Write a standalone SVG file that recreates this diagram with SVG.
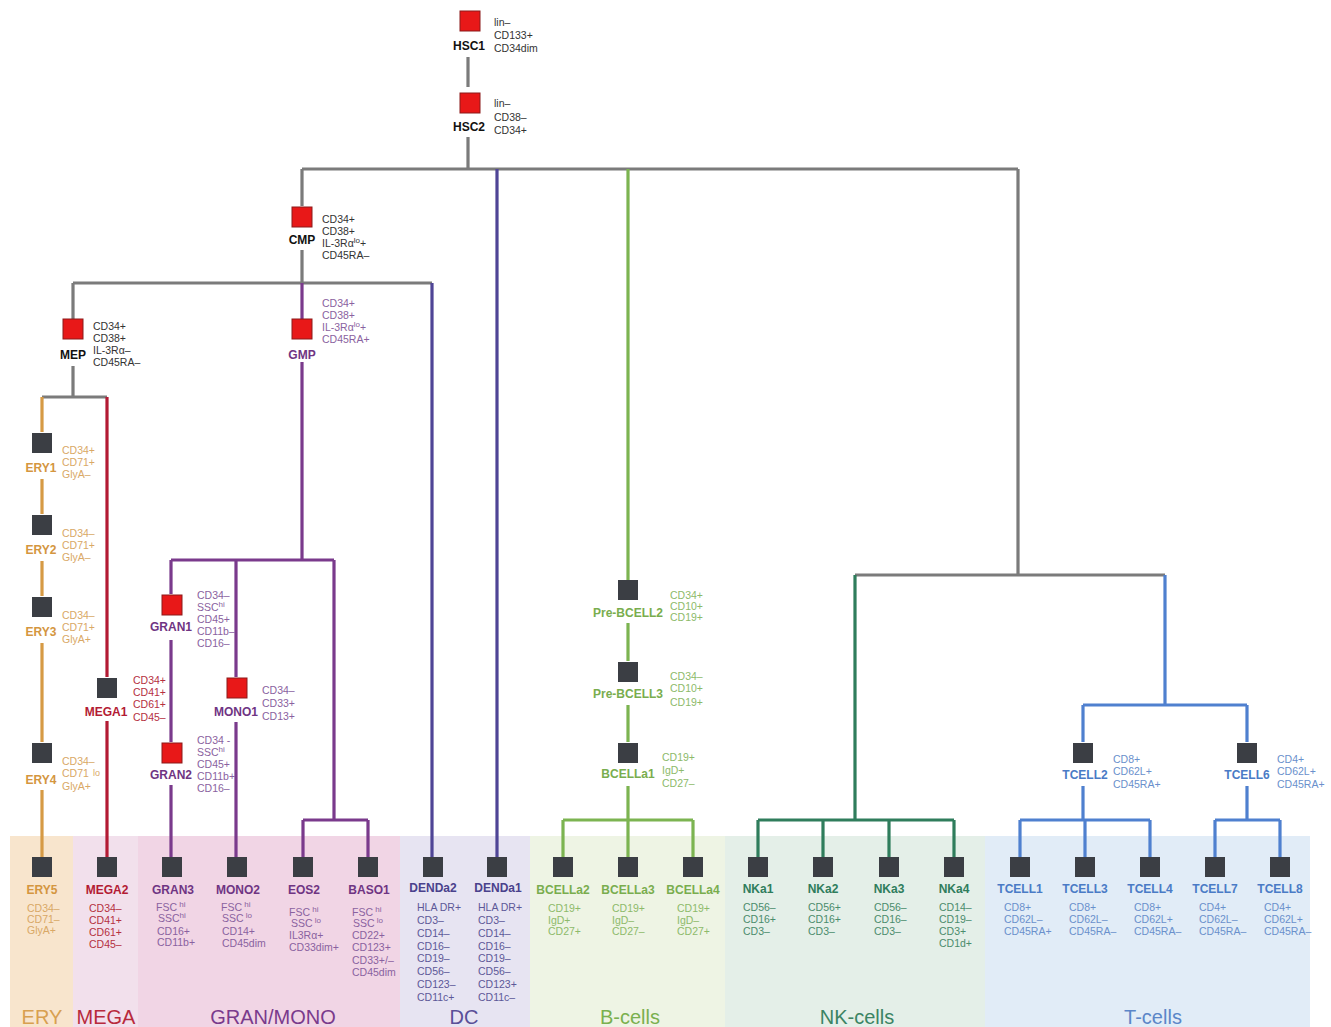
<svg xmlns="http://www.w3.org/2000/svg" width="1331" height="1027" viewBox="0 0 1331 1027">
<style>
text{font-family:"Liberation Sans",Arial,sans-serif}
.lb{font-weight:bold;font-size:12px;text-anchor:middle}
.s{font-size:10.5px}
.cat{font-size:20px;text-anchor:middle}
.sup{font-size:8px}
.rd{fill:#e81818;stroke:#8b1a1a;stroke-width:1}
.dk{fill:#3b3e44}
.c path{fill:none;stroke-width:3.2}
.gy{stroke:#7b7b7b}
.or{stroke:#d69a45}
.re{stroke:#b31b34}
.pu{stroke:#7a3a8c}
.dc{stroke:#4f4596}
.gr{stroke:#7cb451}
.nk{stroke:#2f7d5c}
.tc{stroke:#4f80cf}
.k{fill:#111}
.ks{fill:#333}
.tor{fill:#d49640}
.tors{fill:#d9a866}
.tre{fill:#b31b34}
.tres{fill:#b5303f}
.tpu{fill:#6f3483}
.tpus{fill:#8a62a0}
.tdc{fill:#4a418c}
.tdcs{fill:#5d5898}
.tgr{fill:#79ad4e}
.tgrs{fill:#8dba6a}
.tnk{fill:#2f7d5c}
.tnks{fill:#4b8c6c}
.ttc{fill:#4a7bc6}
.ttcs{fill:#6a90cc}
</style>

<g id="bands">
<rect x="10" y="836" width="63" height="191" fill="#f8e5cd"/>
<rect x="73" y="836" width="65" height="191" fill="#f2e0ec"/>
<rect x="138" y="836" width="262" height="191" fill="#f1d5e5"/>
<rect x="400" y="836" width="130" height="191" fill="#e7e4f2"/>
<rect x="530" y="836" width="195" height="191" fill="#eef4e4"/>
<rect x="725" y="836" width="260" height="191" fill="#e4efe8"/>
<rect x="985" y="836" width="325" height="191" fill="#e1ecf7"/>
<text class="cat" x="42" y="1024" fill="#d8a050">ERY</text>
<text class="cat" x="106" y="1024" fill="#b82a3c">MEGA</text>
<text class="cat" x="273" y="1024" fill="#7a3a8c">GRAN/MONO</text>
<text class="cat" x="464" y="1024" fill="#5a4f98">DC</text>
<text class="cat" x="630" y="1024" fill="#7ab04f">B-cells</text>
<text class="cat" x="857" y="1024" fill="#3b8463">NK-cells</text>
<text class="cat" x="1153" y="1024" fill="#5b86c8">T-cells</text>
</g>

<g id="connectors" class="c">
<path class="gy" d="M468,57V87M468,137V169M302,169H1018M302,169V206M1018,169V575M855,575H1165M302,250V283M73,283H432M73,283V319M73,366V397M42,397H107"/>
<path class="or" d="M42,397V432M42,479V514M42,561V596M42,643V742M42,790V857"/>
<path class="re" d="M107,397V677M107,721V857"/>
<path class="pu" d="M302,283V319M302,362V560M171,560H334M171,560V594M236,560V677M334,560V820M171,640V742M171,785V857M236,722V857M303,820H368M303,820V857M368,820V857"/>
<path class="dc" d="M432,283V857M497,169V857"/>
<path class="gr" d="M628,169V580M628,623V661M628,705V742M628,786V820M563,820H693M563,820V857M628,820V857M693,820V857"/>
<path class="nk" d="M855,575V820M758,820H954M758,820V857M823,820V857M889,820V857M954,820V857"/>
<path class="tc" d="M1165,575V705M1083,705H1247M1083,705V742M1247,705V742M1083,786V820M1020,820H1150M1020,820V857M1085,820V857M1150,820V857M1247,786V820M1215,820H1280M1215,820V857M1280,820V857"/>
</g>

<g id="HSC1">
<rect class="rd" x="460" y="11" width="20" height="20"/>
<text class="lb k" x="469" y="50">HSC1</text>
<text class="s ks" x="494" y="26">lin–</text>
<text class="s ks" x="494" y="39">CD133+</text>
<text class="s ks" x="494" y="52">CD34dim</text>
</g>
<g id="HSC2">
<rect class="rd" x="460" y="93" width="20" height="20"/>
<text class="lb k" x="469" y="131">HSC2</text>
<text class="s ks" x="494" y="107">lin–</text>
<text class="s ks" x="494" y="121">CD38–</text>
<text class="s ks" x="494" y="134">CD34+</text>
</g>
<g id="CMP">
<rect class="rd" x="292" y="207" width="20" height="20"/>
<text class="lb k" x="302" y="244">CMP</text>
<text class="s ks" x="322" y="223">CD34+</text>
<text class="s ks" x="322" y="235">CD38+</text>
<text class="s ks" x="322" y="247">IL-3Rα<tspan class="sup" dy="-4">lo</tspan><tspan dy="4">+</tspan></text>
<text class="s ks" x="322" y="259">CD45RA–</text>
</g>
<g id="MEP">
<rect class="rd" x="63" y="319" width="20" height="20"/>
<text class="lb k" x="73" y="359">MEP</text>
<text class="s ks" x="93" y="330">CD34+</text>
<text class="s ks" x="93" y="342">CD38+</text>
<text class="s ks" x="93" y="354">IL-3Rα–</text>
<text class="s ks" x="93" y="366">CD45RA–</text>
</g>
<g id="GMP">
<rect class="rd" x="292" y="319" width="20" height="20"/>
<text class="lb tpu" x="302" y="359">GMP</text>
<text class="s tpus" x="322" y="307">CD34+</text>
<text class="s tpus" x="322" y="319">CD38+</text>
<text class="s tpus" x="322" y="331">IL-3Rα<tspan class="sup" dy="-4">lo</tspan><tspan dy="4">+</tspan></text>
<text class="s tpus" x="322" y="343">CD45RA+</text>
</g>

<g id="ERY1">
<rect class="dk" x="32" y="433" width="20" height="20"/>
<text class="lb tor" x="41" y="472">ERY1</text>
<text class="s tors" x="62" y="454">CD34+</text>
<text class="s tors" x="62" y="466">CD71+</text>
<text class="s tors" x="62" y="478">GlyA–</text>
</g>
<g id="ERY2">
<rect class="dk" x="32" y="515" width="20" height="20"/>
<text class="lb tor" x="41" y="554">ERY2</text>
<text class="s tors" x="62" y="537">CD34–</text>
<text class="s tors" x="62" y="549">CD71+</text>
<text class="s tors" x="62" y="561">GlyA–</text>
</g>
<g id="ERY3">
<rect class="dk" x="32" y="597" width="20" height="20"/>
<text class="lb tor" x="41" y="636">ERY3</text>
<text class="s tors" x="62" y="619">CD34–</text>
<text class="s tors" x="62" y="631">CD71+</text>
<text class="s tors" x="62" y="643">GlyA+</text>
</g>
<g id="ERY4">
<rect class="dk" x="32" y="743" width="20" height="20"/>
<text class="lb tor" x="41" y="784">ERY4</text>
<text class="s tors" x="62" y="765">CD34–</text>
<text class="s tors" x="62" y="777">CD71 <tspan x="93" dy="-1" font-size="9">lo</tspan></text>
<text class="s tors" x="62" y="790">GlyA+</text>
</g>
<g id="ERY5">
<rect class="dk" x="32" y="857" width="20" height="20"/>
<text class="lb tor" x="42" y="894">ERY5</text>
<text class="s tors" x="27" y="912">CD34–</text>
<text class="s tors" x="27" y="923">CD71–</text>
<text class="s tors" x="27" y="934">GlyA+</text>
</g>
<g id="MEGA1">
<rect class="dk" x="97" y="678" width="20" height="20"/>
<text class="lb tre" x="106" y="716">MEGA1</text>
<text class="s tres" x="133" y="684">CD34+</text>
<text class="s tres" x="133" y="696">CD41+</text>
<text class="s tres" x="133" y="708">CD61+</text>
<text class="s tres" x="133" y="721">CD45–</text>
</g>
<g id="MEGA2">
<rect class="dk" x="97" y="857" width="20" height="20"/>
<text class="lb tre" x="107" y="894">MEGA2</text>
<text class="s tres" x="89" y="912">CD34–</text>
<text class="s tres" x="89" y="924">CD41+</text>
<text class="s tres" x="89" y="936">CD61+</text>
<text class="s tres" x="89" y="948">CD45–</text>
</g>

<g id="GRAN1">
<rect class="rd" x="162" y="595" width="20" height="20"/>
<text class="lb tpu" x="171" y="631">GRAN1</text>
<text class="s tpus" x="197" y="599">CD34–</text>
<text class="s tpus" x="197" y="611">SSC<tspan class="sup" dy="-4">hi</tspan></text>
<text class="s tpus" x="197" y="623">CD45+</text>
<text class="s tpus" x="197" y="635">CD11b–</text>
<text class="s tpus" x="197" y="647">CD16–</text>
</g>
<g id="GRAN2">
<rect class="rd" x="162" y="743" width="20" height="20"/>
<text class="lb tpu" x="171" y="779">GRAN2</text>
<text class="s tpus" x="197" y="744">CD34 -</text>
<text class="s tpus" x="197" y="756">SSC<tspan class="sup" dy="-4">hi</tspan></text>
<text class="s tpus" x="197" y="768">CD45+</text>
<text class="s tpus" x="197" y="780">CD11b+</text>
<text class="s tpus" x="197" y="792">CD16–</text>
</g>
<g id="MONO1">
<rect class="rd" x="227" y="678" width="20" height="20"/>
<text class="lb tpu" x="236" y="716">MONO1</text>
<text class="s tpus" x="262" y="694">CD34–</text>
<text class="s tpus" x="262" y="707">CD33+</text>
<text class="s tpus" x="262" y="720">CD13+</text>
</g>
<g id="GRAN3">
<rect class="dk" x="162" y="857" width="20" height="20"/>
<text class="lb tpu" x="173" y="894">GRAN3</text>
<text class="s tpus" x="156" y="911">FSC<tspan class="sup" dy="-4"> hi</tspan></text>
<text class="s tpus" x="158" y="922">SSC<tspan class="sup" dy="-4">hi</tspan></text>
<text class="s tpus" x="157" y="935">CD16+</text>
<text class="s tpus" x="157" y="946">CD11b+</text>
</g>
<g id="MONO2">
<rect class="dk" x="227" y="857" width="20" height="20"/>
<text class="lb tpu" x="238" y="894">MONO2</text>
<text class="s tpus" x="221" y="911">FSC<tspan class="sup" dy="-4"> hi</tspan></text>
<text class="s tpus" x="222" y="922">SSC<tspan class="sup" dy="-4"> lo</tspan></text>
<text class="s tpus" x="222" y="935">CD14+</text>
<text class="s tpus" x="222" y="947">CD45dim</text>
</g>
<g id="EOS2">
<rect class="dk" x="293" y="857" width="20" height="20"/>
<text class="lb tpu" x="304" y="894">EOS2</text>
<text class="s tpus" x="289" y="916">FSC<tspan class="sup" dy="-4"> hi</tspan></text>
<text class="s tpus" x="291" y="927">SSC<tspan class="sup" dy="-4"> lo</tspan></text>
<text class="s tpus" x="289" y="939">IL3Rα+</text>
<text class="s tpus" x="289" y="951">CD33dim+</text>
</g>
<g id="BASO1">
<rect class="dk" x="358" y="857" width="20" height="20"/>
<text class="lb tpu" x="369" y="894">BASO1</text>
<text class="s tpus" x="352" y="916">FSC<tspan class="sup" dy="-4"> hi</tspan></text>
<text class="s tpus" x="353" y="927">SSC<tspan class="sup" dy="-4"> lo</tspan></text>
<text class="s tpus" x="352" y="939">CD22+</text>
<text class="s tpus" x="352" y="951">CD123+</text>
<text class="s tpus" x="352" y="964">CD33+/–</text>
<text class="s tpus" x="352" y="976">CD45dim</text>
</g>

<g id="DENDa2">
<rect class="dk" x="423" y="857" width="20" height="20"/>
<text class="lb tdc" x="433" y="892">DENDa2</text>
<text class="s tdcs" x="417" y="911">HLA DR+</text>
<text class="s tdcs" x="417" y="924">CD3–</text>
<text class="s tdcs" x="417" y="937">CD14–</text>
<text class="s tdcs" x="417" y="950">CD16–</text>
<text class="s tdcs" x="417" y="962">CD19–</text>
<text class="s tdcs" x="417" y="975">CD56–</text>
<text class="s tdcs" x="417" y="988">CD123–</text>
<text class="s tdcs" x="417" y="1001">CD11c+</text>
</g>
<g id="DENDa1">
<rect class="dk" x="487" y="857" width="20" height="20"/>
<text class="lb tdc" x="498" y="892">DENDa1</text>
<text class="s tdcs" x="478" y="911">HLA DR+</text>
<text class="s tdcs" x="478" y="924">CD3–</text>
<text class="s tdcs" x="478" y="937">CD14–</text>
<text class="s tdcs" x="478" y="950">CD16–</text>
<text class="s tdcs" x="478" y="962">CD19–</text>
<text class="s tdcs" x="478" y="975">CD56–</text>
<text class="s tdcs" x="478" y="988">CD123+</text>
<text class="s tdcs" x="478" y="1001">CD11c–</text>
</g>

<g id="PreBCELL2">
<rect class="dk" x="618" y="580" width="20" height="20"/>
<text class="lb tgr" x="628" y="617">Pre-BCELL2</text>
<text class="s tgrs" x="670" y="599">CD34+</text>
<text class="s tgrs" x="670" y="610">CD10+</text>
<text class="s tgrs" x="670" y="621">CD19+</text>
</g>
<g id="PreBCELL3">
<rect class="dk" x="618" y="662" width="20" height="20"/>
<text class="lb tgr" x="628" y="698">Pre-BCELL3</text>
<text class="s tgrs" x="670" y="680">CD34–</text>
<text class="s tgrs" x="670" y="692">CD10+</text>
<text class="s tgrs" x="670" y="706">CD19+</text>
</g>
<g id="BCELLa1">
<rect class="dk" x="618" y="743" width="20" height="20"/>
<text class="lb tgr" x="628" y="778">BCELLa1</text>
<text class="s tgrs" x="662" y="761">CD19+</text>
<text class="s tgrs" x="662" y="774">IgD+</text>
<text class="s tgrs" x="662" y="787">CD27–</text>
</g>
<g id="BCELLa2">
<rect class="dk" x="553" y="857" width="20" height="20"/>
<text class="lb tgr" x="563" y="894">BCELLa2</text>
<text class="s tgrs" x="548" y="912">CD19+</text>
<text class="s tgrs" x="548" y="924">IgD+</text>
<text class="s tgrs" x="548" y="935">CD27+</text>
</g>
<g id="BCELLa3">
<rect class="dk" x="618" y="857" width="20" height="20"/>
<text class="lb tgr" x="628" y="894">BCELLa3</text>
<text class="s tgrs" x="612" y="912">CD19+</text>
<text class="s tgrs" x="612" y="924">IgD–</text>
<text class="s tgrs" x="612" y="935">CD27–</text>
</g>
<g id="BCELLa4">
<rect class="dk" x="683" y="857" width="20" height="20"/>
<text class="lb tgr" x="693" y="894">BCELLa4</text>
<text class="s tgrs" x="677" y="912">CD19+</text>
<text class="s tgrs" x="677" y="924">IgD–</text>
<text class="s tgrs" x="677" y="935">CD27+</text>
</g>

<g id="NKa1">
<rect class="dk" x="748" y="857" width="20" height="20"/>
<text class="lb tnk" x="758" y="893">NKa1</text>
<text class="s tnks" x="743" y="911">CD56–</text>
<text class="s tnks" x="743" y="923">CD16+</text>
<text class="s tnks" x="743" y="935">CD3–</text>
</g>
<g id="NKa2">
<rect class="dk" x="813" y="857" width="20" height="20"/>
<text class="lb tnk" x="823" y="893">NKa2</text>
<text class="s tnks" x="808" y="911">CD56+</text>
<text class="s tnks" x="808" y="923">CD16+</text>
<text class="s tnks" x="808" y="935">CD3–</text>
</g>
<g id="NKa3">
<rect class="dk" x="879" y="857" width="20" height="20"/>
<text class="lb tnk" x="889" y="893">NKa3</text>
<text class="s tnks" x="874" y="911">CD56–</text>
<text class="s tnks" x="874" y="923">CD16–</text>
<text class="s tnks" x="874" y="935">CD3–</text>
</g>
<g id="NKa4">
<rect class="dk" x="944" y="857" width="20" height="20"/>
<text class="lb tnk" x="954" y="893">NKa4</text>
<text class="s tnks" x="939" y="911">CD14–</text>
<text class="s tnks" x="939" y="923">CD19–</text>
<text class="s tnks" x="939" y="935">CD3+</text>
<text class="s tnks" x="939" y="947">CD1d+</text>
</g>

<g id="TCELL2">
<rect class="dk" x="1073" y="743" width="20" height="20"/>
<text class="lb ttc" x="1085" y="779">TCELL2</text>
<text class="s ttcs" x="1113" y="763">CD8+</text>
<text class="s ttcs" x="1113" y="775">CD62L+</text>
<text class="s ttcs" x="1113" y="788">CD45RA+</text>
</g>
<g id="TCELL6">
<rect class="dk" x="1237" y="743" width="20" height="20"/>
<text class="lb ttc" x="1247" y="779">TCELL6</text>
<text class="s ttcs" x="1277" y="763">CD4+</text>
<text class="s ttcs" x="1277" y="775">CD62L+</text>
<text class="s ttcs" x="1277" y="788">CD45RA+</text>
</g>
<g id="TCELL1">
<rect class="dk" x="1010" y="857" width="20" height="20"/>
<text class="lb ttc" x="1020" y="893">TCELL1</text>
<text class="s ttcs" x="1004" y="911">CD8+</text>
<text class="s ttcs" x="1004" y="923">CD62L–</text>
<text class="s ttcs" x="1004" y="935">CD45RA+</text>
</g>
<g id="TCELL3">
<rect class="dk" x="1075" y="857" width="20" height="20"/>
<text class="lb ttc" x="1085" y="893">TCELL3</text>
<text class="s ttcs" x="1069" y="911">CD8+</text>
<text class="s ttcs" x="1069" y="923">CD62L–</text>
<text class="s ttcs" x="1069" y="935">CD45RA–</text>
</g>
<g id="TCELL4">
<rect class="dk" x="1140" y="857" width="20" height="20"/>
<text class="lb ttc" x="1150" y="893">TCELL4</text>
<text class="s ttcs" x="1134" y="911">CD8+</text>
<text class="s ttcs" x="1134" y="923">CD62L+</text>
<text class="s ttcs" x="1134" y="935">CD45RA–</text>
</g>
<g id="TCELL7">
<rect class="dk" x="1205" y="857" width="20" height="20"/>
<text class="lb ttc" x="1215" y="893">TCELL7</text>
<text class="s ttcs" x="1199" y="911">CD4+</text>
<text class="s ttcs" x="1199" y="923">CD62L–</text>
<text class="s ttcs" x="1199" y="935">CD45RA–</text>
</g>
<g id="TCELL8">
<rect class="dk" x="1270" y="857" width="20" height="20"/>
<text class="lb ttc" x="1280" y="893">TCELL8</text>
<text class="s ttcs" x="1264" y="911">CD4+</text>
<text class="s ttcs" x="1264" y="923">CD62L+</text>
<text class="s ttcs" x="1264" y="935">CD45RA–</text>
</g>
</svg>
